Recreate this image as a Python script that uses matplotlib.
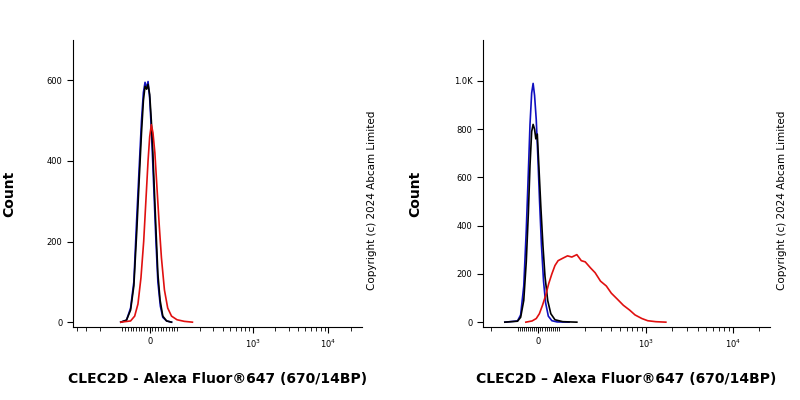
import matplotlib
matplotlib.use("Agg")
import matplotlib.pyplot as plt

# Left panel curves (fluorescence value, count)
l_black_x = [-105, -85, -70, -58, -47, -38, -30, -23, -17, -11, -6, 0, 6, 11, 17, 23, 30, 38, 48, 62, 80]
l_black_y = [0, 5, 30, 90, 230, 360, 470, 550, 585, 578, 590, 565, 500, 430, 330, 230, 120, 55, 15, 3, 0]
l_blue_x = [-105, -85, -70, -58, -48, -38, -30, -23, -17, -11, -6, 0, 6, 11, 17, 23, 30, 39, 48, 62, 80]
l_blue_y = [0, 5, 35, 100, 250, 390, 500, 570, 595, 580, 597, 555, 480, 400, 300, 200, 100, 40, 12, 3, 0]
l_red_x = [-105, -70, -55, -43, -32, -22, -14, -6, 0, 6, 12, 19, 27, 35, 43, 54, 66, 80, 100, 125, 160]
l_red_y = [0, 3, 15, 45, 110, 200, 300, 400, 460, 490, 470, 420, 330, 240, 160, 80, 35, 15, 6, 2, 0]

# Right panel curves
r_blue_x = [-140, -100, -85, -70, -58, -48, -40, -32, -25, -18, -10, -2, 6, 15, 25, 35, 48, 65, 90, 130]
r_blue_y = [0, 5, 30, 150, 380, 620, 820, 950, 990, 940, 840, 680, 500, 320, 170, 80, 25, 6, 1, 0]
r_black_x = [-140, -100, -85, -70, -58, -48, -40, -32, -25, -18, -12, -5, 3, 12, 22, 32, 45, 60, 80, 110, 160]
r_black_y = [0, 4, 20, 90, 250, 450, 650, 790, 820, 800, 760, 780, 640, 480, 320, 190, 90, 35, 10, 2, 0]
r_red_x = [-60, -30, -10, 5, 20, 35, 50, 65, 80, 95, 110, 125, 140, 160, 180, 200, 230, 260, 300, 350, 400, 470, 550, 650, 750, 900, 1050, 1300, 1700]
r_red_y = [0, 5, 15, 35, 70, 110, 160, 200, 235, 255, 265, 275, 270, 280, 255, 250, 225, 205, 170, 150, 120, 95, 70, 50, 30, 15, 6, 2, 0]

l_yticks = [0, 200, 400, 600]
l_ylabels = ["0", "200", "400", "600"]
r_yticks = [0, 200, 400, 600, 800, 1000]
r_ylabels = ["0", "200", "400", "600", "800", "1.0K"]

fig = plt.figure(figsize=(8, 4), dpi=100)

def setup(ax, yt, yl, ymax, xlabel, linscale, xmin, xmax):
    ax.set_xscale("symlog", linthresh=100, linscale=linscale)
    ax.set_xlim(xmin, xmax)
    ax.set_ylim(-12 * ymax / 700, ymax)
    ax.set_yticks(yt)
    ax.set_yticklabels(yl, fontsize=6)
    ax.set_xticks([0, 1000, 10000])
    ax.set_xticklabels(["0", "$10^3$", "$10^4$"], fontsize=6)
    minors = [-v for v in range(100, 600, 100) if v < -xmin] + list(range(-90, 100, 10)) + \
        [m * 10 ** e for e in (2, 3, 4) for m in range(1, 10) if m * 10 ** e < xmax]
    ax.set_xticks(minors, minor=True)
    ax.tick_params(axis="x", which="minor", length=3)
    ax.tick_params(axis="both", which="major", length=4)
    for s in ("top", "right"):
        ax.spines[s].set_visible(False)
    ax.set_xlabel(xlabel, fontsize=10, fontweight="bold", labelpad=16)

ax1 = fig.add_axes([73/800, 0.1825, 289/800, 0.7175])
ax1.plot(l_blue_x, l_blue_y, color="#1010c0", lw=1.2)
ax1.plot(l_black_x, l_black_y, color="black", lw=1.2)
ax1.plot(l_red_x, l_red_y, color="#e01010", lw=1.2)
setup(ax1, l_yticks, l_ylabels, 700, "CLEC2D - Alexa Fluor®647 (670/14BP)", 0.325, -450, 28000)
fig.text(9/800, 0.515, "Count", rotation=90, fontsize=10, fontweight="bold", va="center", ha="center")
fig.text(372/800, 0.5, "Copyright (c) 2024 Abcam Limited", rotation=90, fontsize=7.5, va="center", ha="center")

ax2 = fig.add_axes([483/800, 0.1825, 287/800, 0.7175])
ax2.plot(r_blue_x, r_blue_y, color="#1010c0", lw=1.2)
ax2.plot(r_black_x, r_black_y, color="black", lw=1.2)
ax2.plot(r_red_x, r_red_y, color="#e01010", lw=1.2)
setup(ax2, r_yticks, r_ylabels, 1170, "CLEC2D – Alexa Fluor®647 (670/14BP)", 0.216, -250, 27000)
fig.text(415/800, 0.515, "Count", rotation=90, fontsize=10, fontweight="bold", va="center", ha="center")
fig.text(782/800, 0.5, "Copyright (c) 2024 Abcam Limited", rotation=90, fontsize=7.5, va="center", ha="center")

fig.savefig("out.png", dpi=100)
